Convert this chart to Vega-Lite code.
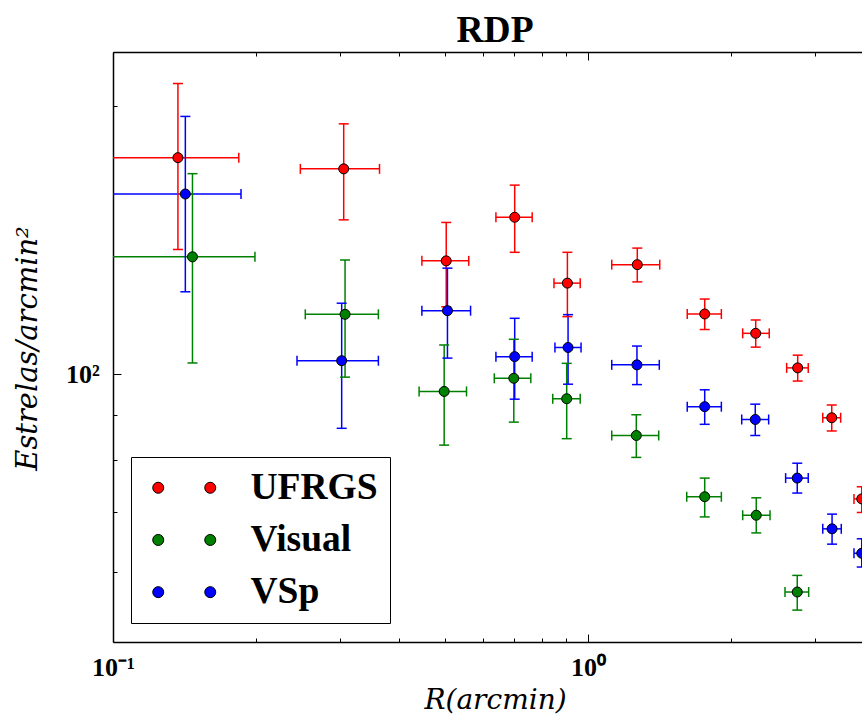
{
  "$schema": "https://vega.github.io/schema/vega-lite/v6.json",
  "width": 749,
  "height": 590,
  "autosize": {"type": "none"},
  "padding": {"left": 113, "top": 52, "right": 0, "bottom": 75},
  "background": "white",
  "config": {"view": {"stroke": null}, "axis": {"grid": false}},
  "title": {"text": "RDP", "font": "Liberation Serif", "fontWeight": "bold", "fontSize": 37.5, "color": "black", "anchor": "middle", "frame": "group", "offset": 9, "baseline": "alphabetic", "dx": 7.5, "dy": 37},
  "data": {"values": [
    {"series": "UFRGS", "x": 0.137, "xlo": 0.090, "xhi": 0.184, "y": 175, "ylo": 138, "yhi": 212},
    {"series": "UFRGS", "x": 0.306, "xlo": 0.248, "xhi": 0.364, "y": 170, "ylo": 149, "yhi": 191},
    {"series": "UFRGS", "x": 0.503, "xlo": 0.447, "xhi": 0.561, "y": 134, "ylo": 119, "yhi": 148},
    {"series": "UFRGS", "x": 0.701, "xlo": 0.640, "xhi": 0.763, "y": 150, "ylo": 137, "yhi": 163},
    {"series": "UFRGS", "x": 0.905, "xlo": 0.848, "xhi": 0.963, "y": 126.5, "ylo": 116, "yhi": 137},
    {"series": "UFRGS", "x": 1.27, "xlo": 1.122, "xhi": 1.416, "y": 132.7, "ylo": 126.9, "yhi": 138.5},
    {"series": "UFRGS", "x": 1.761, "xlo": 1.618, "xhi": 1.909, "y": 116.8, "ylo": 112.2, "yhi": 121.4},
    {"series": "UFRGS", "x": 2.255, "xlo": 2.117, "xhi": 2.408, "y": 111.1, "ylo": 107.2, "yhi": 115.0},
    {"series": "UFRGS", "x": 2.764, "xlo": 2.620, "xhi": 2.909, "y": 101.6, "ylo": 98.2, "yhi": 105.0},
    {"series": "UFRGS", "x": 3.260, "xlo": 3.121, "xhi": 3.404, "y": 89.3, "ylo": 86.3, "yhi": 92.3},
    {"series": "UFRGS", "x": 3.770, "xlo": 3.631, "xhi": 3.909, "y": 72.4, "ylo": 69.9, "yhi": 74.7},
    {"series": "Visual", "x": 0.147, "xlo": 0.095, "xhi": 0.199, "y": 135.4, "ylo": 102.9, "yhi": 167.9},
    {"series": "Visual", "x": 0.308, "xlo": 0.254, "xhi": 0.362, "y": 116.7, "ylo": 99.2, "yhi": 134.3},
    {"series": "Visual", "x": 0.498, "xlo": 0.441, "xhi": 0.555, "y": 95.6, "ylo": 83.2, "yhi": 107.8},
    {"series": "Visual", "x": 0.698, "xlo": 0.635, "xhi": 0.758, "y": 98.9, "ylo": 88.3, "yhi": 109.4},
    {"series": "Visual", "x": 0.902, "xlo": 0.843, "xhi": 0.963, "y": 93.8, "ylo": 84.6, "yhi": 102.8},
    {"series": "Visual", "x": 1.264, "xlo": 1.122, "xhi": 1.409, "y": 85.3, "ylo": 80.6, "yhi": 90.0},
    {"series": "Visual", "x": 1.761, "xlo": 1.614, "xhi": 1.909, "y": 72.8, "ylo": 69.1, "yhi": 76.4},
    {"series": "Visual", "x": 2.261, "xlo": 2.117, "xhi": 2.417, "y": 69.4, "ylo": 66.3, "yhi": 72.6},
    {"series": "Visual", "x": 2.758, "xlo": 2.599, "xhi": 2.915, "y": 56.9, "ylo": 54.3, "yhi": 59.4},
    {"series": "VSp", "x": 0.142, "xlo": 0.098, "xhi": 0.186, "y": 159.3, "ylo": 123.7, "yhi": 194.7},
    {"series": "VSp", "x": 0.303, "xlo": 0.244, "xhi": 0.362, "y": 103.5, "ylo": 86.9, "yhi": 120.1},
    {"series": "VSp", "x": 0.506, "xlo": 0.447, "xhi": 0.566, "y": 117.8, "ylo": 104.2, "yhi": 131.5},
    {"series": "VSp", "x": 0.701, "xlo": 0.640, "xhi": 0.763, "y": 104.6, "ylo": 93.7, "yhi": 115.5},
    {"series": "VSp", "x": 0.908, "xlo": 0.852, "xhi": 0.967, "y": 107.1, "ylo": 97.4, "yhi": 116.6},
    {"series": "VSp", "x": 1.268, "xlo": 1.122, "xhi": 1.413, "y": 102.4, "ylo": 97.3, "yhi": 107.5},
    {"series": "VSp", "x": 1.761, "xlo": 1.618, "xhi": 1.909, "y": 91.9, "ylo": 87.8, "yhi": 96.0},
    {"series": "VSp", "x": 2.250, "xlo": 2.107, "xhi": 2.401, "y": 88.9, "ylo": 85.3, "yhi": 92.5},
    {"series": "VSp", "x": 2.758, "xlo": 2.607, "xhi": 2.909, "y": 76.4, "ylo": 73.5, "yhi": 79.4},
    {"series": "VSp", "x": 3.265, "xlo": 3.121, "xhi": 3.414, "y": 67.0, "ylo": 64.4, "yhi": 69.6},
    {"series": "VSp", "x": 3.770, "xlo": 3.631, "xhi": 3.909, "y": 62.9, "ylo": 60.7, "yhi": 65.3}
  ]},
  "layer": [
    {
      "mark": {"type": "rule", "strokeWidth": 1.5, "clip": true},
      "encoding": {
        "x": {"field": "xlo", "type": "quantitative",
          "scale": {"type": "log", "domain": [0.1, 3.775], "nice": false},
          "axis": {"orient": "bottom", "values": [0.1, 1], "labelExpr": "datum.value < 0.5 ? '10⁻¹' : '10⁰'",
            "tickSize": -8, "tickColor": "black", "tickWidth": 1, "domainColor": "black", "domainWidth": 1.5,
            "labelFont": "Liberation Serif", "labelFontWeight": "bold", "labelFontSize": 26, "labelColor": "black",
            "labelBaseline": "alphabetic", "labelPadding": 41.5, "labelFlush": false, "labelOverlap": false,
            "title": "R(arcmin)", "titleFont": "DejaVu Serif", "titleFontStyle": "italic", "titleFontWeight": "normal",
            "titleFontSize": 28, "titleColor": "black", "titleX": 382, "titleY": 66, "titleBaseline": "alphabetic", "titleAlign": "center"}},
        "x2": {"field": "xhi"},
        "y": {"field": "y", "type": "quantitative",
          "scale": {"type": "log", "domain": [50, 230], "nice": false},
          "axis": {"orient": "left", "values": [100], "labelExpr": "'10²'",
            "tickSize": -8, "tickColor": "black", "tickWidth": 1, "domainColor": "black", "domainWidth": 1.5,
            "labelFont": "Liberation Serif", "labelFontWeight": "bold", "labelFontSize": 26, "labelColor": "black",
            "labelBaseline": "middle", "labelAlign": "right", "labelPadding": 21.7, "labelFlush": false, "labelOverlap": false,
            "title": "Estrelas/arcmin²", "titleFont": "DejaVu Serif", "titleFontStyle": "italic", "titleFontWeight": "normal",
            "titleFontSize": 29, "titleColor": "black", "titleX": -77, "titleY": 296, "titleBaseline": "alphabetic", "titleAlign": "center", "titleAngle": 270}},
        "stroke": {"field": "series", "type": "nominal", "scale": {"domain": ["VSp", "UFRGS", "Visual"], "range": ["#0000ff", "#ff0000", "#008000"]}, "legend": null}
      }
    },
    {
      "mark": {"type": "rule", "strokeWidth": 1.5, "clip": true},
      "encoding": {
        "x": {"field": "x", "type": "quantitative",
          "axis": {"orient": "bottom", "values": [0.2, 0.3, 0.4, 0.5, 0.6, 0.7, 0.8, 0.9, 2, 3],
            "labels": false, "domain": false, "tickSize": -4, "tickColor": "black", "tickWidth": 1, "title": null}},
        "y": {"field": "ylo", "type": "quantitative",
          "axis": {"orient": "left", "values": [60, 70, 80, 90, 200],
            "labels": false, "domain": false, "tickSize": -4, "tickColor": "black", "tickWidth": 1, "title": null}},
        "y2": {"field": "yhi"},
        "stroke": {"field": "series", "type": "nominal", "scale": {"domain": ["VSp", "UFRGS", "Visual"], "range": ["#0000ff", "#ff0000", "#008000"]}, "legend": null}
      }
    },
    {
      "transform": [{"fold": ["xlo", "xhi"], "as": ["end", "xv"]}],
      "mark": {"type": "tick", "orient": "vertical", "size": 10, "thickness": 1.5, "clip": true, "opacity": 1},
      "encoding": {
        "x": {"field": "xv", "type": "quantitative",
          "axis": {"orient": "top", "values": [0.1, 1], "labels": false, "domain": true, "domainColor": "black", "domainWidth": 1.5,
            "tickSize": -8, "tickColor": "black", "tickWidth": 1, "title": null}},
        "y": {"field": "y", "type": "quantitative", "axis": null},
        "color": {"field": "series", "type": "nominal", "scale": {"domain": ["Visual", "VSp", "UFRGS"], "range": ["#008000", "#0000ff", "#ff0000"]}, "legend": null}
      }
    },
    {
      "transform": [{"fold": ["ylo", "yhi"], "as": ["end", "yv"]}],
      "mark": {"type": "tick", "orient": "horizontal", "size": 10, "thickness": 1.5, "clip": true, "opacity": 1},
      "encoding": {
        "x": {"field": "x", "type": "quantitative",
          "axis": {"orient": "top", "values": [0.2, 0.3, 0.4, 0.5, 0.6, 0.7, 0.8, 0.9, 2, 3], "labels": false, "domain": false,
            "tickSize": -4, "tickColor": "black", "tickWidth": 1, "title": null}},
        "y": {"field": "yv", "type": "quantitative", "axis": null},
        "color": {"field": "series", "type": "nominal", "scale": {"domain": ["Visual", "VSp", "UFRGS"], "range": ["#008000", "#0000ff", "#ff0000"]}, "legend": null}
      }
    },
    {
      "mark": {"type": "point", "shape": "circle", "filled": true, "size": 100, "stroke": "black", "strokeWidth": 1, "opacity": 1, "clip": true},
      "encoding": {
        "x": {"field": "x", "type": "quantitative", "axis": null},
        "y": {"field": "y", "type": "quantitative", "axis": null},
        "fill": {"field": "series", "type": "nominal", "scale": {"domain": ["UFRGS", "Visual", "VSp"], "range": ["#ff0000", "#008000", "#0000ff"]},
          "legend": {"orient": "none", "legendX": 18, "legendY": 405, "title": null, "direction": "vertical",
            "symbolType": "M 0.1175 0 C 0.1175 0.1787 -0.0273 0.3235 -0.206 0.3235 C -0.3847 0.3235 -0.5295 0.1787 -0.5295 0 C -0.5295 -0.1787 -0.3847 -0.3235 -0.206 -0.3235 C -0.0273 -0.3235 0.1175 -0.1787 0.1175 0 Z M 3.1765 0 C 3.1765 0.1787 3.0317 0.3235 2.853 0.3235 C 2.6743 0.3235 2.5295 0.1787 2.5295 0 C 2.5295 -0.1787 2.6743 -0.3235 2.853 -0.3235 C 3.0317 -0.3235 3.1765 -0.1787 3.1765 0 Z",
            "symbolSize": 1156, "symbolStrokeColor": "black", "symbolStrokeWidth": 1, "symbolOpacity": 1,
            "labelFont": "Liberation Serif", "labelFontWeight": "bold", "labelFontSize": 37.5, "labelColor": "black",
            "labelOffset": 70, "labelLimit": 400, "rowPadding": 13.2, "padding": 12,
            "strokeColor": "black", "fillColor": "white", "cornerRadius": 0}}
      }
    }
  ],
  "resolve": {"axis": {"x": "independent", "y": "independent"}}
}
